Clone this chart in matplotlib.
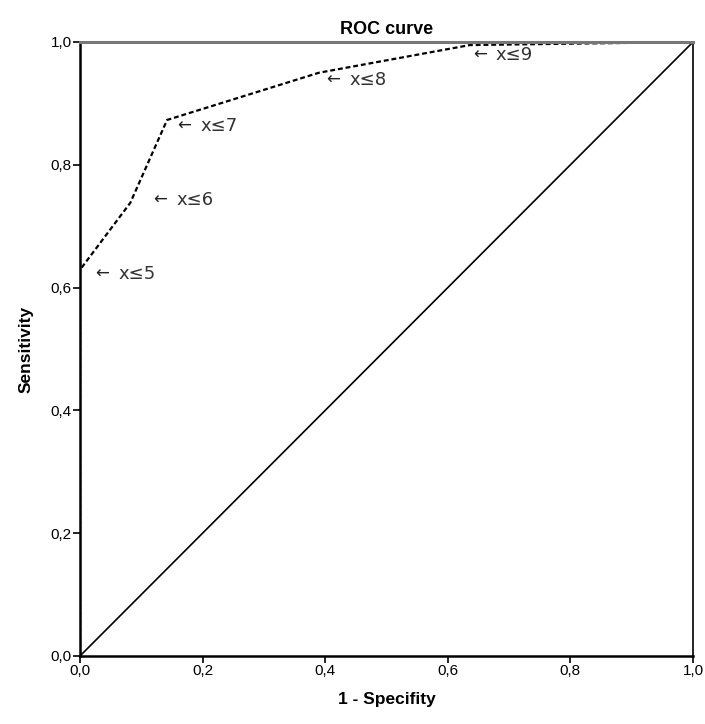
import matplotlib.pyplot as plt

plt.rcParams['font.family'] = ['Liberation Sans', 'DejaVu Sans']

# ROC points (1 - specificity, sensitivity)
fpr = [0.0, 0.0, 0.082, 0.142, 0.39, 0.636, 1.0]
tpr = [0.0, 0.629, 0.738, 0.873, 0.95, 0.995, 1.0]
cut_labels = ['x≤5', 'x≤6', 'x≤7', 'x≤8', 'x≤9']
ticks = [0.0, 0.2, 0.4, 0.6, 0.8, 1.0]
tick_labels = ['0,0', '0,2', '0,4', '0,6', '0,8', '1,0']

# label offsets in pixels from each cut point (style only)
offsets = [(15, -4), (23, 3), (10, -6), (7, -7), (3, -10)]

fig = plt.figure(figsize=(7.05, 7.24), dpi=100)
ax = fig.add_axes([0.1135, 0.094, 0.8695, 0.848])

ax.plot([0, 1], [0, 1], color='black', lw=1.2)
ax.plot(fpr, tpr, color='black', lw=1.6, linestyle=(0, (2.2, 1.3)))

for i, lab in enumerate(cut_labels):
    dx, dy = offsets[i]
    ax.annotate('←', xy=(fpr[i + 1], tpr[i + 1]), xytext=(dx, dy),
                textcoords='offset pixels', fontsize=12, color='#222222',
                va='center', ha='left', family=['DejaVu Sans'])
    ax.annotate(lab, xy=(fpr[i + 1], tpr[i + 1]), xytext=(dx + 23, dy),
                textcoords='offset pixels', fontsize=13, color='#333333',
                va='center', ha='left', family=['DejaVu Sans'])

ax.set_xlim(0, 1)
ax.set_ylim(0, 1)
ax.set_xticks(ticks)
ax.set_xticklabels(tick_labels)
ax.set_yticks(ticks)
ax.set_yticklabels(tick_labels)
ax.tick_params(direction='out', length=5, width=1.2, labelsize=11, colors='black', pad=1)

for s in ['left', 'bottom']:
    ax.spines[s].set_linewidth(1.8)
ax.spines['right'].set_linewidth(1.2)
ax.spines['top'].set_linewidth(2.2)
ax.spines['top'].set_color('#777777')

ax.set_title('ROC curve', fontsize=13, fontweight='bold', pad=6)
ax.set_xlabel('1 - Specifity', fontsize=12.5, fontweight='bold', labelpad=10)
ax.set_ylabel('Sensitivity', fontsize=12.5, fontweight='bold', labelpad=12)

fig.savefig('out.png', dpi=100)
